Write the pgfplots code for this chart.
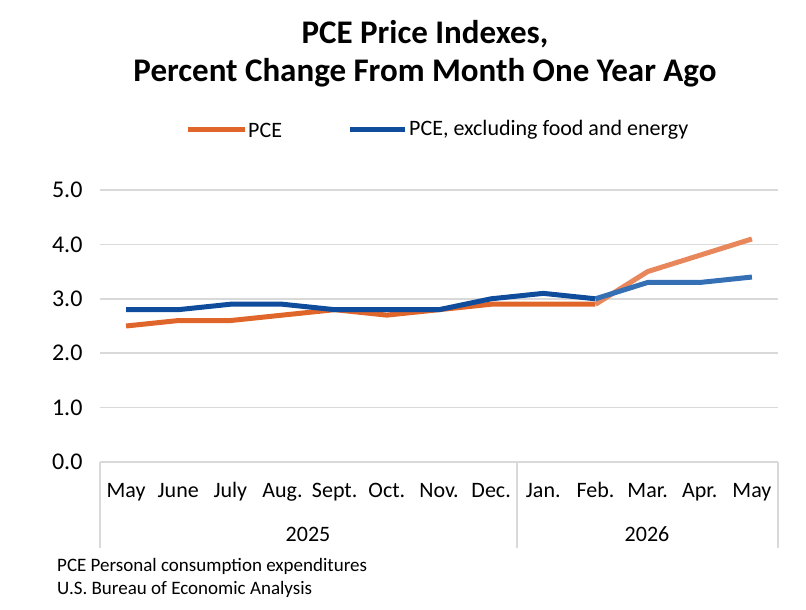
\documentclass[border=0pt]{standalone}
\usepackage{pgfplots}
\pgfplotsset{compat=1.18}
\usepackage{fontspec}
\setmainfont{Carlito}
\definecolor{pceor}{HTML}{E0652A}
\definecolor{pceorl}{HTML}{E8875C}
\definecolor{corebl}{HTML}{0F4C9C}
\definecolor{corebll}{HTML}{3570B5}
\definecolor{gridg}{HTML}{D9D9D9}
\begin{document}
\begin{tikzpicture}[x=1pt,y=1pt]
\path[use as bounding box] (0,0) rectangle (806,610);
\begin{axis}[
  at={(100pt,148pt)}, anchor=south west,
  width=678pt, height=272pt, scale only axis,
  xmin=-0.5, xmax=12.5, ymin=0, ymax=5,
  ytick={0,1,2,3,4,5},
  /pgf/number format/fixed, /pgf/number format/fixed zerofill,
  /pgf/number format/precision=1, /pgf/number format/assume math mode=true,
  yticklabel style={font=\fontsize{24}{28}\selectfont, xshift=-14pt},
  xtick={0,...,12},
  xticklabels={May,June,July,Aug.,Sept.,Oct.,Nov.,Dec.,Jan.,Feb.,Mar.,Apr.,May},
  xticklabel style={font=\fontsize{22}{26}\selectfont, anchor=base, yshift=-36pt},
  major tick length=0pt,
  ymajorgrids, grid style={gridg, line width=1.5pt},
  axis line style={draw=none},
  clip=false,
]
\addplot[pceor, line width=5pt, line join=round] coordinates {
(0,2.5)(1,2.6)(2,2.6)(3,2.7)(4,2.8)(5,2.7)(6,2.8)(7,2.9)(8,2.9)(9,2.9)};
\addplot[pceorl, line width=5pt, line join=round] coordinates {
(9,2.9)(10,3.5)(11,3.8)(12,4.1)};
\addplot[corebl, line width=5pt, line join=round] coordinates {
(0,2.8)(1,2.8)(2,2.9)(3,2.9)(4,2.8)(5,2.8)(6,2.8)(7,3.0)(8,3.1)(9,3.0)};
\addplot[corebll, line width=5pt, line join=round] coordinates {
(9,3.0)(10,3.3)(11,3.3)(12,3.4)};
\coordinate (s0) at (axis cs:-0.5,0);
\coordinate (s1) at (axis cs:7.5,0);
\coordinate (s2) at (axis cs:12.5,0);
\end{axis}
\foreach \s in {s0,s1,s2} {\draw[gridg, line width=1.5pt] (\s) -- ([yshift=-86pt]\s);}
\node[font=\fontsize{22}{26}\selectfont] at (308,76) {2025};
\node[font=\fontsize{22}{26}\selectfont] at (647,76) {2026};
\node[font=\bfseries\fontsize{33}{38}\selectfont, align=center] at (425,556) {PCE Price Indexes,\\Percent Change From Month One Year Ago};
\draw[pceor, line width=5pt] (188,480) -- (245,480);
\node[anchor=west, font=\fontsize{22}{26}\selectfont, inner sep=0pt] at (248,480) {PCE};
\draw[corebl, line width=5pt] (350,480) -- (405,480);
\node[anchor=west, font=\fontsize{22}{26}\selectfont, inner sep=0pt] at (409,480) {PCE, excluding food and energy};
\node[anchor=west, font=\fontsize{19}{23}\selectfont, align=left, inner sep=0pt] at (57,32) {PCE Personal consumption expenditures\\U.S. Bureau of Economic Analysis};
\end{tikzpicture}
\end{document}
